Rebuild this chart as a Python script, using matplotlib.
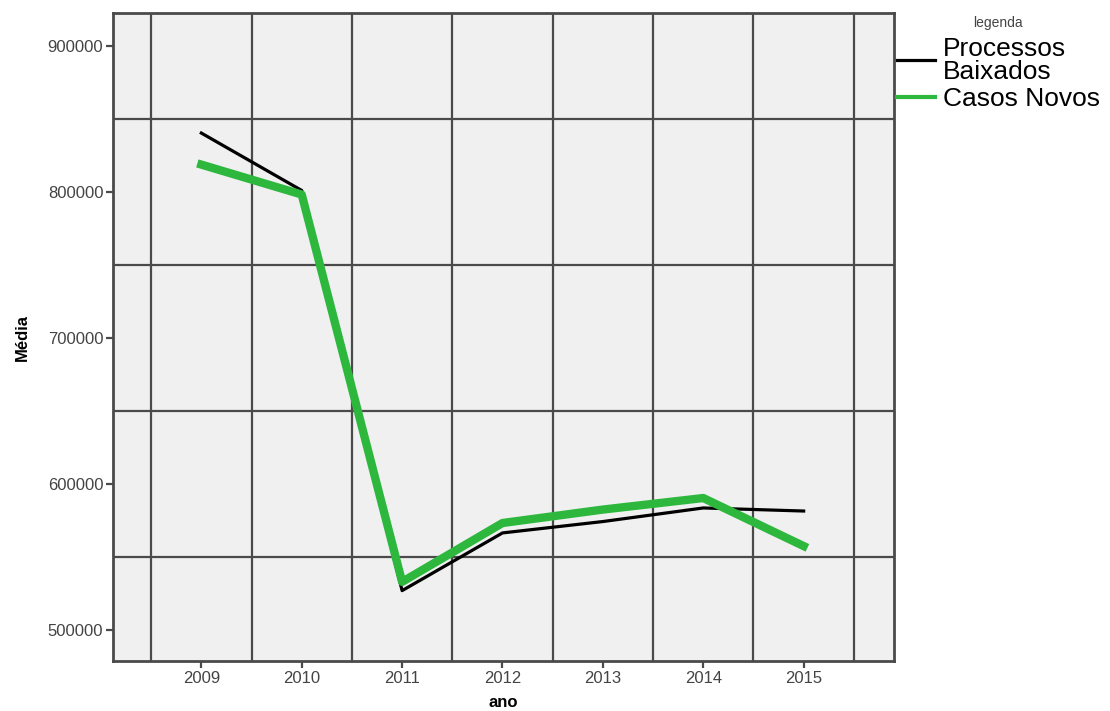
import matplotlib
matplotlib.use("Agg")
import matplotlib.pyplot as plt
from matplotlib.ticker import FixedLocator

plt.rcParams['font.family'] = ['Liberation Sans', 'DejaVu Sans']

# data
anos = [2009, 2010, 2011, 2012, 2013, 2014, 2015]
baixados = [840300, 801000, 527000, 566500, 574300, 583600, 581500]
casos_novos = [818700, 798200, 533000, 573300, 582500, 590400, 557500]
y_ticks = [500000, 600000, 700000, 800000, 900000]
y_grid = [550000, 650000, 750000, 850000]
x_grid = [2008.5, 2009.5, 2010.5, 2011.5, 2012.5, 2013.5, 2014.5, 2015.5]

grid_col = '#4a4a4a'
fig = plt.figure(figsize=(11.1, 7.11), dpi=100)
ax = fig.add_axes([0.1018, 0.0703, 0.7036, 0.9114])
ax.set_facecolor('#f0f0f0')

# grid between categories
for x in x_grid:
    ax.axvline(x, color=grid_col, lw=1.6, zorder=1)
for y in y_grid:
    ax.axhline(y, color=grid_col, lw=1.6, zorder=1)

ax.plot(anos, baixados, color='black', lw=2.3, label='Processos\nBaixados', zorder=3)
ax.plot(anos, casos_novos, color='#2db83d', lw=6, label='Casos Novos', zorder=4)

ax.set_xlim(2008.12, 2015.9)
ax.set_ylim(478800, 922500)
ax.xaxis.set_major_locator(FixedLocator(anos))
ax.yaxis.set_major_locator(FixedLocator(y_ticks))
ax.set_xticklabels([str(a) for a in anos])
ax.set_yticklabels([str(v) for v in y_ticks])
ax.tick_params(axis='both', direction='out', length=5, width=1.6, color=grid_col,
               labelsize=12, labelcolor='#444444', pad=2)

for s in ax.spines.values():
    s.set_color(grid_col)
    s.set_linewidth(2)

ax.set_xlabel('ano', fontsize=12, fontweight='bold', labelpad=7)
ax.set_ylabel('Média', fontsize=12, fontweight='bold', labelpad=13)

leg = ax.legend(loc='upper left', bbox_to_anchor=(1.0, 1.0), frameon=False,
                title='legenda', fontsize=19, handlelength=1.45, handletextpad=0.3,
                borderaxespad=0, borderpad=0.1, labelspacing=0.12)
leg.get_title().set_fontsize(10)
leg.get_title().set_color('#444444')
leg._legend_box.sep = 5
for t in leg.get_texts():
    t.set_linespacing(0.95)
leg.legend_handles[1].set_linewidth(3)

fig.savefig('out.png', dpi=100)
